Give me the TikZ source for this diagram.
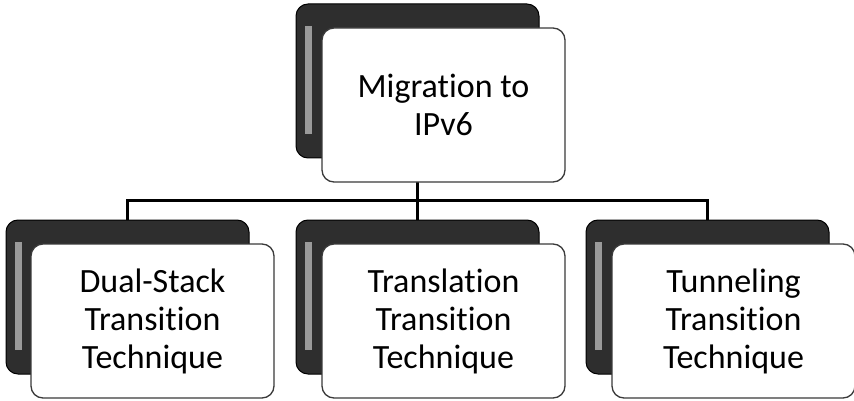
\documentclass[tikz,border=0pt]{standalone}
\usepackage{fontspec}
\setmainfont{Carlito}[Ligatures=NoCommon]
\usepackage{tikz}
\usetikzlibrary{positioning}
\definecolor{migDark}{HTML}{2E2E2E}
\definecolor{migStripe}{HTML}{9A9A9A}
\definecolor{migEdge}{HTML}{3A3A3A}
\tikzset{
  backbox/.style={rectangle, rounded corners=12pt, draw=black, line width=1pt, fill=migDark, minimum width=243pt, minimum height=154pt,
    path picture={\fill[migStripe, draw=none, sharp corners] ([xshift=9pt,yshift=-22pt]path picture bounding box.north west) rectangle ([xshift=16pt,yshift=24pt]path picture bounding box.south west);}},
  box/.style={rectangle, rounded corners=12pt, draw=migEdge, line width=1.3pt, fill=white, align=center, minimum width=243pt, minimum height=154pt,
    font=\fontsize{34}{38}\selectfont},
  link/.style={line width=3pt, draw=black}
}
\begin{document}
\begin{tikzpicture}[x=1pt, y=-1pt]
  \useasboundingbox (0,0) rectangle (854,401);
  % shadow boxes behind
  \node[backbox] (topback) at (417.5,81) {};
  \node[backbox] (leftback) at (127.5,297) {};
  \node[backbox] (midback) at (417.5,297) {};
  \node[backbox] (rightback) at (707.5,297) {};

  % tree links
  \draw[link] (topback.south) -- ++(0,42) coordinate (bus);
  \draw[link] (bus) -| (leftback.north);
  \draw[link] (bus) -- (midback.north);
  \draw[link] (bus) -| (rightback.north);

  % front boxes
  \node[box] (top) at ([xshift=26pt,yshift=-24pt]topback.center) {Migration to\\IPv6};
  \node[box] (dual) at ([xshift=25pt,yshift=-24pt]leftback.center) {Dual-Stack\\Transition\\Technique};
  \node[box] (trans) at ([xshift=26pt,yshift=-24pt]midback.center) {Translation\\Transition\\Technique};
  \node[box] (tunnel) at ([xshift=26pt,yshift=-24pt]rightback.center) {Tunneling\\Transition\\Technique};
\end{tikzpicture}
\end{document}
